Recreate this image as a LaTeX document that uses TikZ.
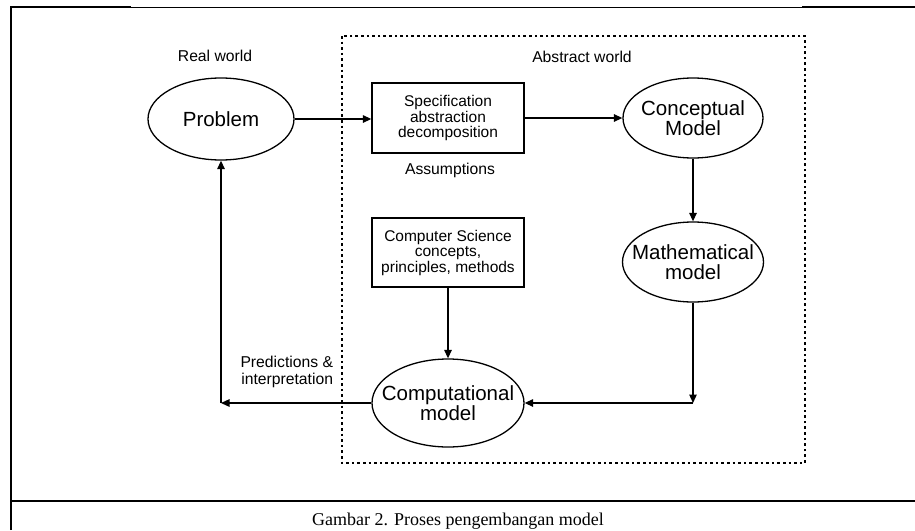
\documentclass[tikz,border=0pt]{standalone}
\usepackage{fontspec}
\setmainfont{Liberation Sans}
\newfontfamily\capfont{Liberation Serif}
\usetikzlibrary{shapes.geometric,arrows.meta}
\begin{document}
\begin{tikzpicture}[x=1pt,y=-1pt,
  line width=1.3pt,
  arr/.style={-{Triangle[length=8.5pt,width=7.5pt]}},
  ell/.style={draw,ellipse,inner sep=0pt},
  elltxt/.style={font=\fontsize{20.5}{20}\selectfont,align=center},
  boxn/.style={draw,rectangle,inner sep=0pt,align=center,font=\fontsize{15.5}{15.5}\selectfont},
  lbl/.style={font=\fontsize{15.7}{17}\selectfont,align=center},
  dotbox/.style={line width=1.5pt,dash pattern=on 2.6pt off 3pt},
  frame/.style={line width=2pt}]
\useasboundingbox (0,0) rectangle (915,530);
\begin{scope}
\clip (0,0) rectangle (915,530);
% frame
\draw[frame] (11,530) -- (11,7) -- (131,7);
\draw[line width=1pt] (131,7) -- (802,7);
\draw[frame] (802,7) -- (915,7);
\draw[frame] (11,501) -- (915,501);
\node[font=\capfont\fontsize{18}{18}\selectfont,anchor=base] (cap) at (458,525) {Gambar 2. Proses pengembangan model};
\end{scope}
% dotted abstract world box
\draw[dotbox] (342,36) rectangle (805,463);
% labels
\node[lbl] (rw) at (215,56) {Real world};
\node[lbl] (aw) at (582,57) {Abstract world};
\node[lbl] (as) at (450,170) {Assumptions};
\node[lbl,anchor=east,align=right] (pi) at (337,372) {Predictions \&\\interpretation};
% nodes
\node[ell,minimum width=146,minimum height=82,label={[elltxt]center:Problem}] (problem) at (221,119) {};
\node[boxn,minimum width=152,minimum height=70] (spec) at (448,118) {Specification\\abstraction\\decomposition};
\node[ell,minimum width=140,minimum height=80,label={[elltxt]center:Conceptual\\Model}] (concept) at (693,118) {};
\node[ell,minimum width=141,minimum height=80,label={[elltxt]center:Mathematical\\model}] (math) at (693,262) {};
\node[boxn,minimum width=152,minimum height=69] (cs) at (448,252.5) {Computer Science\\concepts,\\principles, methods};
\node[ell,minimum width=152,minimum height=88,label={[elltxt]center:Computational\\model}] (comp) at (448,403) {};
\coordinate (cr) at (693,403);
\coordinate (cl) at (221,403);
% connectors
\draw[arr] (problem.east) -- (problem.east -| spec.west);
\draw[arr] (spec.east) -- (spec.east -| concept.west);
\draw[arr] (concept.south) -- (math.north);
\draw[arr] (math.south) -- (cr);
\draw[arr] (cr) -- (comp.east);
\draw[arr] (cs.south) -- (comp.north);
\draw[arr] (comp.west) -- (cl);
\draw[arr] (cl) -- (problem.south);
\end{tikzpicture}
\end{document}
